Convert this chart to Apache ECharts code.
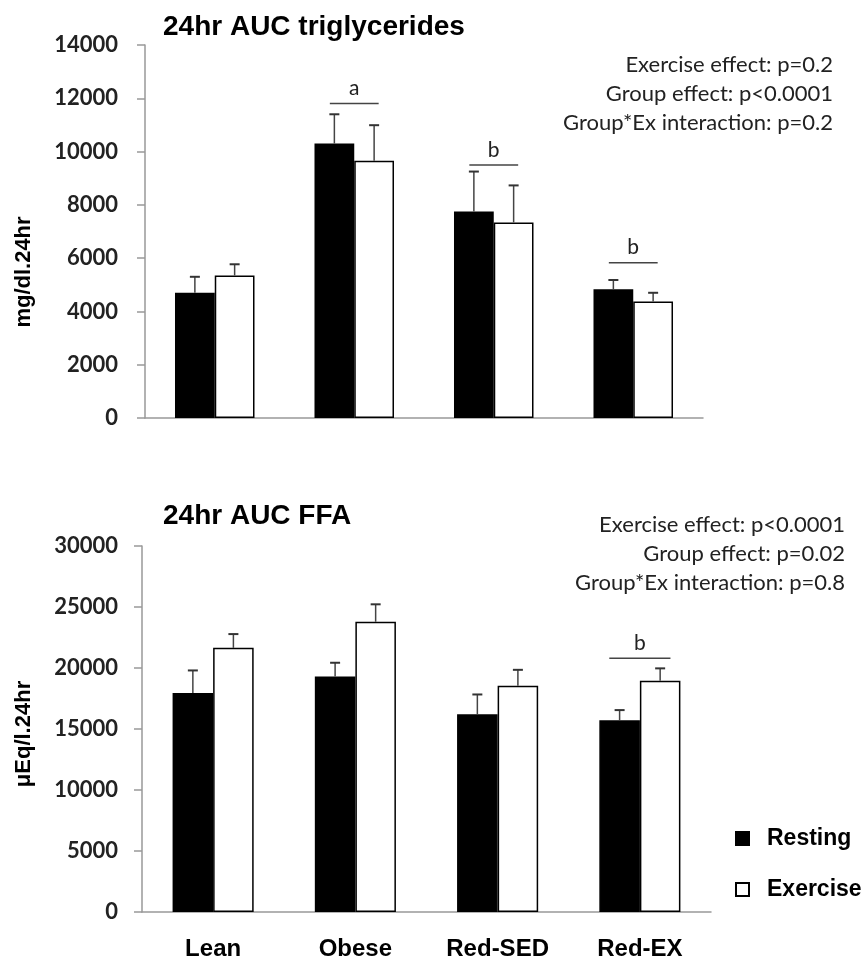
<!DOCTYPE html>
<html><head><meta charset="utf-8">
<script src="https://cdn.jsdelivr.net/npm/echarts@6/dist/echarts.min.js"></script>
<style>html,body{margin:0;padding:0;background:#fff}#c{width:865px;height:958px}</style>
</head><body><div id="c"></div>
<script>
// ---------- data ----------
const categories = ['Lean', 'Obese', 'Red-SED', 'Red-EX'];
const seriesNames = ['Resting', 'Exercise'];

// Triglycerides (mg/dl.24hr): means and upper ends of error bars
const tgRest    = [4700, 10300, 7750, 4830];
const tgRestTop = [5300, 11400, 9250, 5180];
const tgEx      = [5350, 9660, 7340, 4370];
const tgExTop   = [5770, 10990, 8730, 4700];
const tgTicks   = [0, 2000, 4000, 6000, 8000, 10000, 12000, 14000];
const tgSigCats    = [1, 2, 3];
const tgSigLevels  = [11800, 9500, 5830];
const tgSigLetters = ['a', 'b', 'b'];
const tgStats = ['Exercise effect: p=0.2', 'Group effect: p<0.0001', 'Group*Ex interaction: p=0.2'];

// FFA (µEq/l.24hr)
const ffaRest    = [17950, 19300, 16200, 15720];
const ffaRestTop = [19800, 20430, 17830, 16550];
const ffaEx      = [21650, 23790, 18540, 18950];
const ffaExTop   = [22780, 25220, 19850, 19970];
const ffaTicks   = [0, 5000, 10000, 15000, 20000, 25000, 30000];
const ffaSigCats    = [3];
const ffaSigLevels  = [20790];
const ffaSigLetters = ['b'];
const ffaStats = ['Exercise effect: p<0.0001', 'Group effect: p=0.02', 'Group*Ex interaction: p=0.8'];

const titles = ['24hr AUC triglycerides', '24hr AUC FFA'];
const yNames = ['mg/dl.24hr', 'μEq/l.24hr'];

// ---------- styling ----------
const GAP = 0.43;
const axisGray = '#999';
const sansBold = 'Liberation Sans, Arial, sans-serif';
const labelFont = 'Lato, Open Sans, sans-serif';

function errRender(side) {
  return function (params, api) {
    const ci = api.value(0);
    const c = api.coord([ci, api.value(1)]);
    const t = api.coord([ci, api.value(2)]);
    const band = api.size([1, 0])[0];
    const bw = band * (1 - GAP) / 2;
    const x = c[0] + side * bw / 2;
    return { type: 'group', children: [
      { type: 'line', shape: { x1: x, y1: c[1], x2: x, y2: t[1] }, style: { stroke: '#444', lineWidth: 1.5 } },
      { type: 'line', shape: { x1: x - 5, y1: t[1], x2: x + 5, y2: t[1] }, style: { stroke: '#333', lineWidth: 2 } }
    ]};
  };
}
function sigRender(frac, letters) {
  return function (params, api) {
    const p = api.coord([api.value(0), api.value(1)]);
    const band = api.size([1, 0])[0];
    const w = band * frac;
    return { type: 'group', children: [
      { type: 'line', shape: { x1: p[0] - w / 2, y1: p[1], x2: p[0] + w / 2, y2: p[1] }, style: { stroke: '#444', lineWidth: 1.5 } },
      { type: 'text', x: p[0], y: p[1] - 15, style: { text: letters[params.dataIndex], fill: '#222', font: '21px ' + labelFont, textAlign: 'center', textVerticalAlign: 'middle' } }
    ]};
  };
}
function zip(a, b, c) { return a.map((v, i) => c ? [i, v, c[i]] : [a[i], b[i]]); }

function yAxis(idx, ticks, margin) {
  return {
    type: 'value', gridIndex: idx, min: ticks[0], max: ticks[ticks.length - 1], interval: ticks[1] - ticks[0],
    axisLine: { show: true, lineStyle: { color: axisGray, width: 1.5 } },
    axisTick: { show: true, length: 8, lineStyle: { color: axisGray, width: 1.5 } },
    splitLine: { show: false },
    axisLabel: { margin: margin, color: '#222', fontFamily: labelFont, fontWeight: 'bold', fontSize: 22, formatter: v => String(v) }
  };
}
function xAxis(idx, showLabels) {
  return {
    type: 'category', gridIndex: idx, data: categories,
    axisLine: { show: true, lineStyle: { color: axisGray, width: 1.5 } },
    axisTick: { show: false },
    axisLabel: { show: showLabels, margin: 25, color: '#000', fontFamily: sansBold, fontWeight: 'bold', fontSize: 24 }
  };
}
function bars(idx, rest, ex) {
  return [
    { name: seriesNames[0], type: 'bar', xAxisIndex: idx, yAxisIndex: idx, data: rest, barGap: '0%', barCategoryGap: (GAP * 100) + '%',
      itemStyle: { color: '#000', borderColor: '#000', borderWidth: 1.5 } },
    { name: seriesNames[1], type: 'bar', xAxisIndex: idx, yAxisIndex: idx, data: ex, barGap: '0%', barCategoryGap: (GAP * 100) + '%',
      itemStyle: { color: '#fff', borderColor: '#000', borderWidth: 1.5 } }
  ];
}
function errs(idx, rest, restTop, ex, exTop) {
  return [
    { name: 'errRest' + idx, type: 'custom', xAxisIndex: idx, yAxisIndex: idx, renderItem: errRender(-1), data: zip(rest, null, restTop), encode: { x: 0, y: [1, 2] }, z: 5 },
    { name: 'errEx' + idx, type: 'custom', xAxisIndex: idx, yAxisIndex: idx, renderItem: errRender(1), data: zip(ex, null, exTop), encode: { x: 0, y: [1, 2] }, z: 5 }
  ];
}
function sig(idx, cats, levels, letters, frac) {
  return { name: 'sig' + idx, type: 'custom', xAxisIndex: idx, yAxisIndex: idx, renderItem: sigRender(frac, letters), data: zip(cats, levels), encode: { x: 0, y: 1 }, z: 6 };
}
function statsText(lines, right, y0, dy) {
  return lines.map((t, i) => ({ type: 'text', right: 865 - right, top: y0 + i * dy,
    style: { text: t, fill: '#222', font: '22px ' + labelFont, textAlign: 'right' } }));
}

const chart = echarts.init(document.getElementById('c'), null, { renderer: 'canvas' });
chart.setOption({
  backgroundColor: '#fff',
  animation: false,
  title: [
    { text: titles[0], left: 158, top: 8, textStyle: { fontFamily: sansBold, fontWeight: 'bold', fontSize: 28, color: '#000' } },
    { text: titles[1], left: 158, top: 497, textStyle: { fontFamily: sansBold, fontWeight: 'bold', fontSize: 28, color: '#000' } }
  ],
  legend: {
    orient: 'vertical', left: 735, top: 827, padding: 0, itemWidth: 13, itemHeight: 13, itemGap: 28, icon: 'rect',
    data: seriesNames,
    textStyle: { fontFamily: sansBold, fontWeight: 'bold', fontSize: 23, color: '#000', padding: [0, 0, 0, 13] }
  },
  grid: [
    { left: 145, right: 162, top: 45, height: 373, containLabel: false, outerBoundsMode: 'none' },
    { left: 142, right: 154, top: 546, height: 366, containLabel: false, outerBoundsMode: 'none' }
  ],
  xAxis: [xAxis(0, false), xAxis(1, true)],
  yAxis: [yAxis(0, tgTicks, 27), yAxis(1, ffaTicks, 24)],
  graphic: [
    { type: 'text', x: 24, y: 272, rotation: Math.PI / 2, style: { text: yNames[0], fill: '#000', font: 'bold 22px ' + sansBold, textAlign: 'center', textVerticalAlign: 'middle' } },
    { type: 'text', x: 24, y: 734, rotation: Math.PI / 2, style: { text: yNames[1], fill: '#000', font: 'bold 22px ' + sansBold, textAlign: 'center', textVerticalAlign: 'middle' } }
  ].concat(statsText(tgStats, 833, 54, 29)).concat(statsText(ffaStats, 845, 514, 29)),
  series: [].concat(
    bars(0, tgRest, tgEx), errs(0, tgRest, tgRestTop, tgEx, tgExTop), [sig(0, tgSigCats, tgSigLevels, tgSigLetters, 0.35)],
    bars(1, ffaRest, ffaEx), errs(1, ffaRest, ffaRestTop, ffaEx, ffaExTop), [sig(1, ffaSigCats, ffaSigLevels, ffaSigLetters, 0.43)]
  )
});
</script>
</body></html>
